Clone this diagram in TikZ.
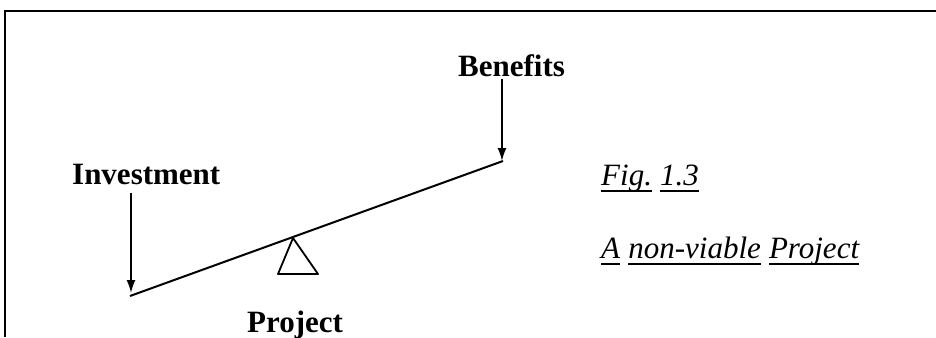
\documentclass[tikz,border=0pt]{standalone}
\usepackage{fontspec}
\setmainfont{Liberation Serif}
\usetikzlibrary{arrows.meta}
\tikzset{
  lbl/.style={font=\fontsize{31}{31}\selectfont\bfseries, inner sep=0pt, anchor=base west},
  captxt/.style={font=\fontsize{31}{31}\selectfont\itshape, inner sep=0pt, anchor=base west},
  uline/.style={line width=1.4pt},
  force/.style={line width=1.8pt, -{Latex[length=13pt,width=9pt]}},
  frameline/.style={line width=2pt},
}
\newcommand{\ulw}[1]{\draw[uline] ([yshift=-6pt]#1.base west) -- ([yshift=-6pt]#1.base east);}
\begin{document}
\begin{tikzpicture}[x=1pt,y=-1pt]
\useasboundingbox (0,0) rectangle (936,337);
% frame
\coordinate (fTL) at (5,11);
\coordinate (fTR) at (936,11);
\coordinate (fBL) at (5,337);
\draw[frameline] (fTR) -- (fTL) -- (fBL);
% beam and fulcrum
\coordinate (beamL) at (130,296);
\coordinate (beamR) at (503,161);
\draw[line width=2pt] (beamL) -- (beamR);
\coordinate (apex) at (293,238);
\coordinate (baseL) at (278,274);
\coordinate (baseR) at (318,274);
\draw[line width=1.8pt, line join=round] (apex) -- (baseL) -- (baseR) -- cycle;
% labels
\node[lbl] (inv) at (72,184) {Investment};
\node[lbl] (ben) at (458,76) {Benefits};
\node[lbl] (proj) at (247,332) {Project};
% forces
\coordinate (invTop) at (131,193);
\coordinate (invTip) at (131,293);
\draw[force] (invTop) -- (invTip);
\coordinate (benTop) at (502,79);
\coordinate (benTip) at (502,161);
\draw[force] (benTop) -- (benTip);
% caption
\node[captxt] (fig) at (601,185) {Fig.};
\node[captxt] (num) at ([xshift=7.75pt]fig.base east) {1.3};
\ulw{fig}\ulw{num}
\node[captxt] (wa) at (601,258) {A};
\node[captxt] (wb) at ([xshift=7.75pt]wa.base east) {non-viable};
\node[captxt] (wc) at ([xshift=7.75pt]wb.base east) {Project};
\ulw{wa}\ulw{wb}\ulw{wc}
\end{tikzpicture}
\end{document}
